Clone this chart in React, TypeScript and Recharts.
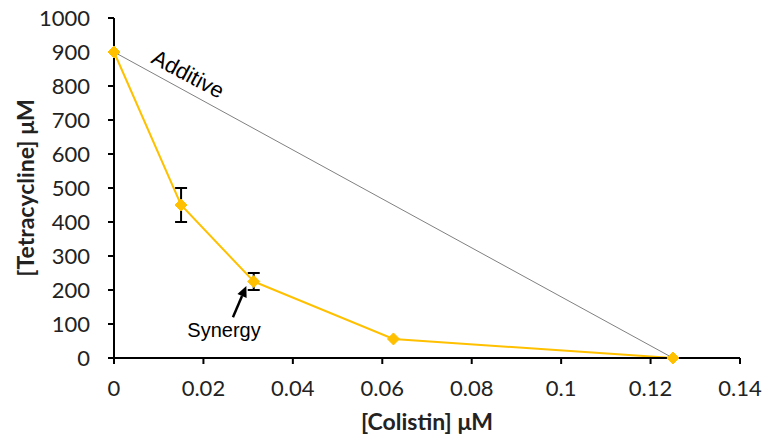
import {
  ComposedChart,
  ErrorBar,
  Line,
  ReferenceDot,
  ReferenceLine,
  XAxis,
  YAxis,
} from 'recharts';

// measured combination (isobologram)
const colistin = [0, 0.015, 0.03125, 0.0625, 0.125];
const tetracycline = [900, 450, 225, 56, 0];
const tetraError = [0, 50, 25, 0, 0];

// additive line end points
const additiveX = [0, 0.125];
const additiveY = [900, 0];

const xTicks = [0, 0.02, 0.04, 0.06, 0.08, 0.1, 0.12, 0.14];
const yTicks = [0, 100, 200, 300, 400, 500, 600, 700, 800, 900, 1000];

const ORANGE = '#FFC000';
const FONT = 'Lato, "Open Sans", sans-serif';

const synergyData = colistin.map((x, i) => ({ x, y: tetracycline[i], err: tetraError[i] }));
const additiveData = additiveX.map((x, i) => ({ x, add: additiveY[i] }));

const Diamond = (props: any) => {
  const { cx, cy } = props;
  if (cx == null || cy == null) return null;
  const r = 6;
  return (
    <polygon
      points={`${cx},${cy - r} ${cx + r},${cy} ${cx},${cy + r} ${cx - r},${cy}`}
      fill={ORANGE}
      stroke={ORANGE}
    />
  );
};

const Arrow = (props: any) => {
  const { x1, y1, x2, y2 } = props;
  if (x1 == null) return null;
  const ang = Math.atan2(y2 - y1, x2 - x1);
  const len = 11;
  const w = 5;
  const bx = x2 - len * Math.cos(ang);
  const by = y2 - len * Math.sin(ang);
  const px = -Math.sin(ang) * w;
  const py = Math.cos(ang) * w;
  return (
    <g>
      <line x1={x1} y1={y1} x2={bx} y2={by} stroke="#000" strokeWidth={2.5} />
      <polygon points={`${x2},${y2} ${bx + px},${by + py} ${bx - px},${by - py}`} fill="#000" />
    </g>
  );
};

const AdditiveText = (props: any) => (
  <text
    x={props.cx}
    y={props.cy}
    textAnchor="middle"
    dominantBaseline="central"
    transform={`rotate(28 ${props.cx} ${props.cy})`}
    fontFamily='"Liberation Sans", Arial, sans-serif'
    fontSize={22}
    fill="#000"
  >
    Additive
  </text>
);

const SynergyText = (props: any) => (
  <text
    x={props.cx}
    y={props.cy}
    textAnchor="middle"
    dominantBaseline="central"
    fontFamily='"Liberation Sans", Arial, sans-serif'
    fontSize={20}
    fill="#000"
  >
    Synergy
  </text>
);

const App = () => {
  return (
    <div style={{ position: 'absolute', left: 0, top: 0, background: '#fff' }}>
      <ComposedChart
        width={766}
        height={438}
        margin={{ top: 18, right: 26, left: 0, bottom: 0 }}
        style={{ fontFamily: FONT }}
      >
        <XAxis
          type="number"
          dataKey="x"
          domain={[0, 0.14]}
          ticks={xTicks}
          allowDuplicatedCategory={false}
          height={80}
          tickSize={6}
          tickMargin={16}
          axisLine={{ stroke: '#000', strokeWidth: 2 }}
          tickLine={{ stroke: '#000', strokeWidth: 2 }}
          tick={{ fill: '#222', fontSize: 22 }}
          label={{
            value: '[Colistin] μM',
            position: 'insideBottom',
            offset: 8,
            style: { fill: '#222', fontSize: 23, fontWeight: 700 },
          }}
        />
        <YAxis
          type="number"
          domain={[0, 1000]}
          ticks={yTicks}
          width={114}
          tickSize={6}
          tickMargin={18}
          axisLine={{ stroke: '#000', strokeWidth: 2 }}
          tickLine={{ stroke: '#000', strokeWidth: 2 }}
          tick={{ fill: '#222', fontSize: 22 }}
          label={{
            value: '[Tetracycline] μM',
            angle: -90,
            position: 'insideLeft',
            offset: 26,
            style: { fill: '#222', fontSize: 23, fontWeight: 700, textAnchor: 'middle' },
          }}
        />
        <Line
          data={additiveData}
          dataKey="add"
          stroke="#808080"
          strokeWidth={1}
          dot={false}
          activeDot={false}
          isAnimationActive={false}
        />
        <Line
          data={synergyData}
          dataKey="y"
          stroke={ORANGE}
          strokeWidth={2}
          dot={<Diamond />}
          activeDot={false}
          isAnimationActive={false}
        >
          <ErrorBar dataKey="err" direction="y" width={6} stroke="#000" strokeWidth={2} />
        </Line>
        <ReferenceDot x={0.01655} y={835} r={0} shape={<AdditiveText />} />
        <ReferenceDot x={0.0246} y={82} r={0} shape={<SynergyText />} />
        <ReferenceLine
          segment={[
            { x: 0.0266, y: 120 },
            { x: 0.0296, y: 212 },
          ]}
          shape={<Arrow />}
        />
      </ComposedChart>
    </div>
  );
};

export default App;
